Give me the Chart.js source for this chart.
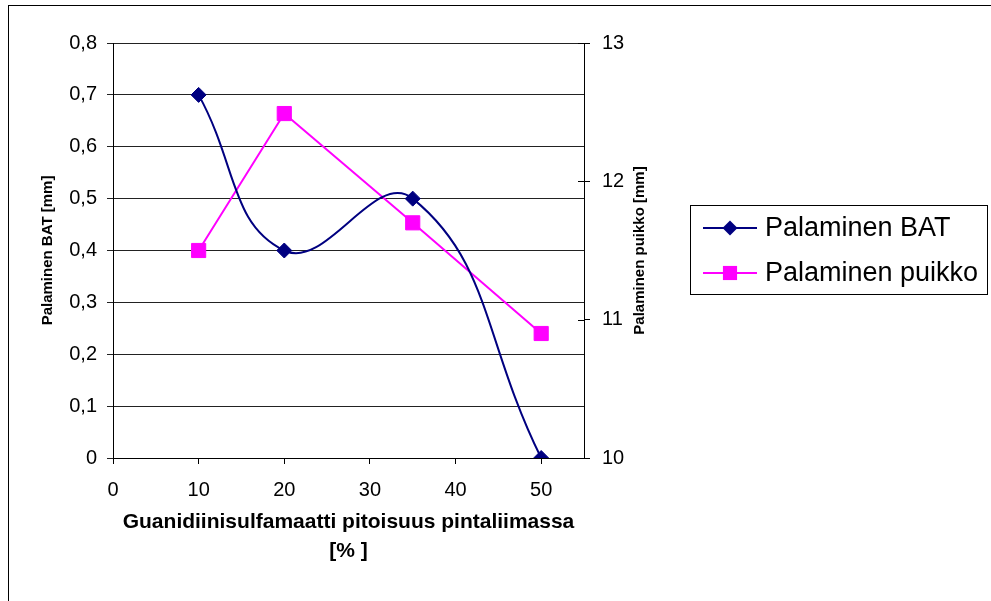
<!DOCTYPE html>
<html>
<head>
<meta charset="utf-8">
<title>Palaminen</title>
<script src="https://cdn.jsdelivr.net/npm/chart.js@4.4.1/dist/chart.umd.min.js"></script>
<style>
  html, body { margin: 0; padding: 0; background: #fff; }
  canvas { display: block; }
</style>
</head>
<body>
<canvas id="palaminenChart" width="991" height="601"></canvas>
<script>
const pitoisuus = [10, 20, 35, 50];
const palaminenBat = [0.7, 0.4, 0.5, 0];
const palaminenPuikko = [11.5, 12.49, 11.7, 10.9];

const FONT = 'Liberation Sans, Arial, sans-serif';

function points(ys) {
  return pitoisuus.map((x, i) => ({ x: x, y: ys[i] }));
}

// frame, inner ticks on the right axis, right axis title and the boxed legend
const extras = {
  id: 'extras',
  afterDraw(chart) {
    const ctx = chart.ctx;
    const area = chart.chartArea;
    ctx.save();
    ctx.strokeStyle = '#000';
    ctx.lineWidth = 1;
    ctx.strokeRect(8.5, 5.5, 1000, 700);

    const y1 = chart.scales.y1;
    ctx.beginPath();
    y1.ticks.forEach(t => {
      const py = Math.round(y1.getPixelForValue(t.value)) + 0.5;
      ctx.moveTo(y1.left - 6, py);
      ctx.lineTo(y1.left, py);
    });
    ctx.stroke();

    ctx.save();
    ctx.translate(640, (area.top + area.bottom) / 2);
    ctx.rotate(-Math.PI / 2);
    ctx.font = 'bold 15px ' + FONT;
    ctx.fillStyle = '#000';
    ctx.textAlign = 'center';
    ctx.textBaseline = 'middle';
    ctx.fillText('Palaminen puikko [mm]', 0, 0);
    ctx.restore();

    // legend
    ctx.strokeRect(690.5, 205.5, 297, 89);
    chart.data.datasets.forEach((ds, i) => {
      const y = 228 + i * 45;
      ctx.strokeStyle = ds.borderColor;
      ctx.lineWidth = 2;
      ctx.beginPath();
      ctx.moveTo(703, y);
      ctx.lineTo(757, y);
      ctx.stroke();
      ctx.fillStyle = ds.backgroundColor;
      ctx.beginPath();
      if (ds.pointStyle === 'rectRot') {
        const r = ds.pointRadius;
        ctx.moveTo(730, y - r);
        ctx.lineTo(730 + r, y);
        ctx.lineTo(730, y + r);
        ctx.lineTo(730 - r, y);
        ctx.closePath();
      } else {
        const h = ds.pointRadius * Math.SQRT1_2;
        ctx.rect(730 - h, y - h, 2 * h, 2 * h);
      }
      ctx.fill();
      ctx.fillStyle = '#000';
      ctx.font = '27px ' + FONT;
      ctx.textAlign = 'left';
      ctx.textBaseline = 'middle';
      ctx.fillText(ds.label, 765, y + 1);
    });
    ctx.restore();
  }
};

new Chart(document.getElementById('palaminenChart').getContext('2d'), {
  type: 'line',
  data: {
    datasets: [
      {
        label: 'Palaminen BAT',
        data: points(palaminenBat),
        yAxisID: 'y',
        borderColor: '#000080',
        backgroundColor: '#000080',
        borderWidth: 2,
        tension: 0.45,
        pointStyle: 'rectRot',
        pointRadius: 7.5,
        pointBorderWidth: 1
      },
      {
        label: 'Palaminen puikko',
        data: points(palaminenPuikko),
        yAxisID: 'y1',
        borderColor: '#ff00ff',
        backgroundColor: '#ff00ff',
        borderWidth: 2,
        tension: 0,
        pointStyle: 'rect',
        pointRadius: 10,
        pointBorderWidth: 1
      }
    ]
  },
  options: {
    responsive: false,
    animation: false,
    layout: { padding: { left: 0, top: 43, right: 337, bottom: 0 } },
    plugins: { legend: { display: false }, tooltip: { enabled: false } },
    scales: {
      x: {
        type: 'linear',
        min: 0,
        max: 55,
        afterFit: s => { s.height = 143; },
        ticks: {
          stepSize: 10,
          includeBounds: false,
          padding: 14,
          color: '#000',
          font: { family: FONT, size: 20 }
        },
        grid: { drawOnChartArea: false, tickLength: 6, color: '#000' },
        border: { color: '#000' },
        title: {
          display: true,
          text: ['Guanidiinisulfamaatti pitoisuus pintaliimassa', '[% ]'],
          color: '#000',
          font: { family: FONT, size: 21, weight: 'bold', lineHeight: 1.4 },
          padding: { top: 0, bottom: 35 }
        }
      },
      y: {
        position: 'left',
        min: 0,
        max: 0.8,
        afterFit: s => { s.width = 113; },
        ticks: {
          stepSize: 0.1,
          padding: 10,
          color: '#000',
          font: { family: FONT, size: 20 },
          callback: v => v.toFixed(1).replace('.', ',').replace(/^0,0$/, '0')
        },
        grid: { color: '#222', tickLength: 6 },
        border: { color: '#000' },
        title: {
          display: true,
          text: 'Palaminen BAT [mm]',
          color: '#000',
          font: { family: FONT, size: 15, weight: 'bold' },
          padding: { top: 39, bottom: 0 }
        }
      },
      y1: {
        position: 'right',
        min: 10,
        max: 13,
        afterFit: s => { s.width = 70; },
        ticks: {
          stepSize: 1,
          padding: 12,
          color: '#000',
          font: { family: FONT, size: 20 }
        },
        grid: { drawOnChartArea: false, tickLength: 6, color: '#000' },
        border: { color: '#000' }
      }
    }
  },
  plugins: [extras]
});
</script>
</body>
</html>
